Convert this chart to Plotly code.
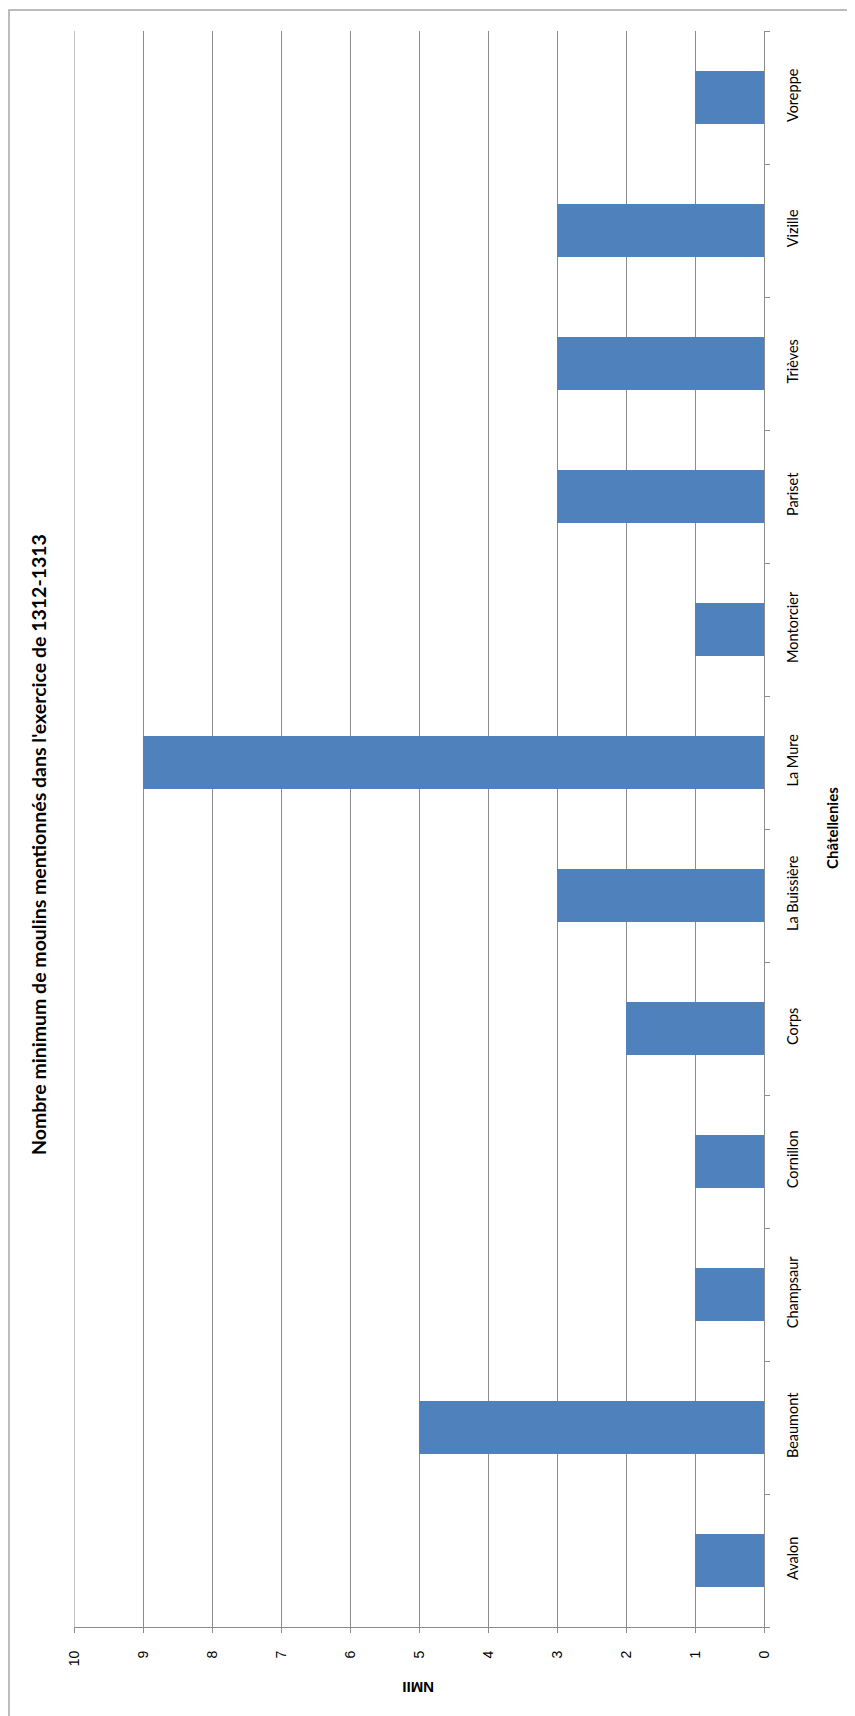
import plotly.graph_objects as go

categories = ["Avalon", "Beaumont", "Champsaur", "Cornillon", "Corps", "La Buissière",
              "La Mure", "Montorcier", "Pariset", "Trièves", "Vizille", "Voreppe"]
values = [1, 5, 1, 1, 2, 3, 9, 1, 3, 3, 3, 1]
value_ticks = list(range(0, 11))

W, H = 855, 1716
OFF = 8  # page body margin
L, R, T, B = 74 - OFF, 764 - OFF, 31 - OFF, 1627 - OFF

def px(x):
    return (x - OFF - L) / (R - L)

def py(y):
    return (B - (y - OFF)) / (B - T)

GRID = "#8C8C8C"

fig = go.Figure()
fig.add_trace(go.Bar(
    x=values, y=categories, orientation="h",
    marker=dict(color="#4F81BD", line=dict(width=0)),
    width=0.4,
))

fig.update_layout(
    width=W, height=H,
    margin=dict(l=L, r=W - R, t=T, b=H - B),
    paper_bgcolor="white", plot_bgcolor="white",
    showlegend=False,
    font=dict(family="Liberation Sans, Arial, sans-serif", color="#000000"),
    xaxis=dict(
        range=[10, 0], tickvals=value_ticks, ticktext=[str(v) for v in value_ticks],
        tickangle=-90, showgrid=True, gridcolor=GRID, gridwidth=1,
        showline=True, linecolor=GRID, linewidth=1,
        ticks="outside", ticklen=5, tickcolor=GRID, ticklabelstandoff=12,
        tickfont=dict(size=14, family="Liberation Sans, Arial, sans-serif"), zeroline=False,
    ),
    yaxis=dict(
        categoryorder="array", categoryarray=categories,
        side="right", tickangle=-90, showgrid=False,
        showline=True, linecolor=GRID, linewidth=1,
        ticks="outside", ticklen=5, tickcolor=GRID, tickson="boundaries",
        ticklabelstandoff=16,
        tickfont=dict(size=14.5, family="Lato, Open Sans, sans-serif"), range=[-0.5, 11.5], zeroline=False,
    ),
    shapes=[
        dict(type="rect", xref="paper", yref="paper",
             x0=px(9), x1=px(900), y0=py(1800), y1=py(10),
             line=dict(color="#A6A6A6", width=1.5), fillcolor="rgba(0,0,0,0)",
             layer="below"),
        dict(type="line", xref="x", yref="paper", x0=10, x1=10, y0=0, y1=1,
             line=dict(color=GRID, width=1), layer="below"),
    ],
    annotations=[
        dict(text="<b>Nombre minimum de moulins mentionnés dans l'exercice de 1312-1313</b>",
             x=px(38), y=py(845), xref="paper", yref="paper", showarrow=False,
             textangle=-90, font=dict(family="Lato, Open Sans, sans-serif", size=19.5, color="#000"),
             xanchor="center", yanchor="middle"),
        dict(text="<b>Châtellenies</b>",
             x=px(832), y=py(828), xref="paper", yref="paper", showarrow=False,
             textangle=-90, font=dict(family="Lato, Open Sans, sans-serif", size=15, color="#000"),
             xanchor="center", yanchor="middle"),
        dict(text="<b>NMII</b>",
             x=px(418), y=py(1688), xref="paper", yref="paper", showarrow=False,
             textangle=180,
             font=dict(family="Liberation Sans, Arial, sans-serif", size=15, color="#000"),
             xanchor="center", yanchor="middle"),
    ],
)

fig.write_html("out.html")
